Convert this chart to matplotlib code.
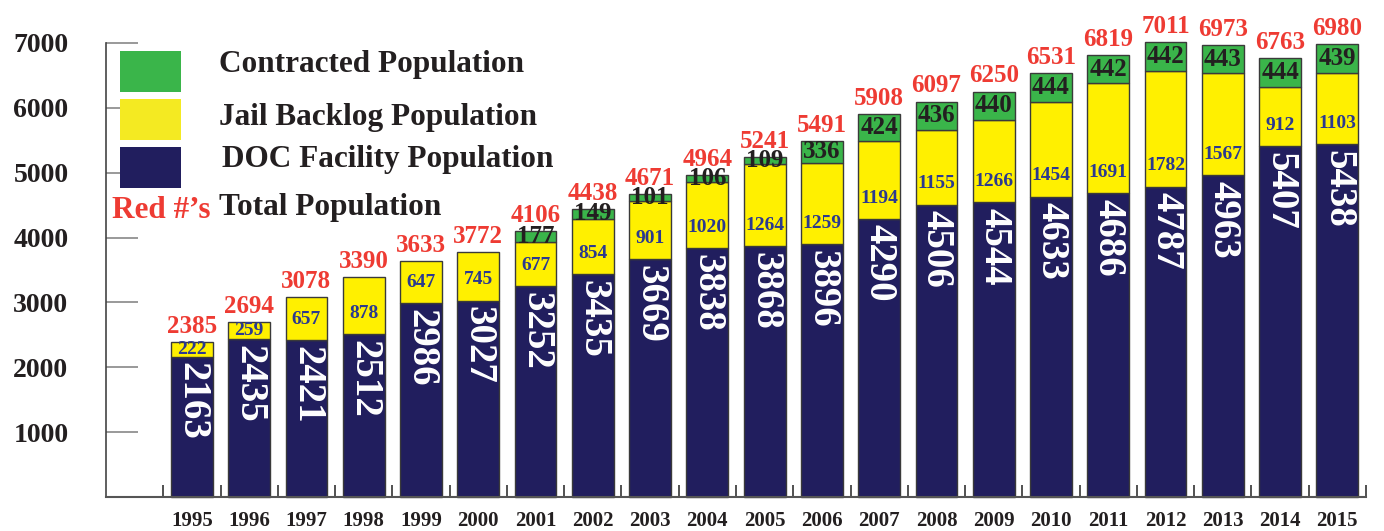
import numpy as np
import matplotlib
matplotlib.use("Agg")
import matplotlib.pyplot as plt
from matplotlib.patches import Rectangle

plt.rcParams['font.family'] = ['Liberation Serif', 'DejaVu Serif']
plt.rcParams['font.weight'] = 'bold'

years = ['1995', '1996', '1997', '1998', '1999', '2000', '2001', '2002', '2003', '2004', '2005',
         '2006', '2007', '2008', '2009', '2010', '2011', '2012', '2013', '2014', '2015']
doc = [2163, 2435, 2421, 2512, 2986, 3027, 3252, 3435, 3669, 3838, 3868,
       3896, 4290, 4506, 4544, 4633, 4686, 4787, 4963, 5407, 5438]
jail = [222, 259, 657, 878, 647, 745, 677, 854, 901, 1020, 1264,
        1259, 1194, 1155, 1266, 1454, 1691, 1782, 1567, 912, 1103]
contracted = [0, 0, 0, 0, 0, 0, 177, 149, 101, 106, 109,
              336, 424, 436, 440, 444, 442, 442, 443, 444, 439]
total = [2385, 2694, 3078, 3390, 3633, 3772, 4106, 4438, 4671, 4964, 5241,
         5491, 5908, 6097, 6250, 6531, 6819, 7011, 6973, 6763, 6980]
yticks = [1000, 2000, 3000, 4000, 5000, 6000, 7000]

NAVY = '#211e5e'
YELLOW = '#fff000'
GREEN = '#3ab54a'
RED = '#ee3b33'
BLUE = '#2b3990'
DARK = '#231f20'

W, H = 1384, 531
fig = plt.figure(figsize=(W / 100, H / 100), dpi=100)
ax = fig.add_axes([106 / W, 34 / H, 1260 / W, 454 / H])

x = np.arange(1, len(years) + 1)
doc = np.array(doc)
jail = np.array(jail)
contracted = np.array(contracted)
bw = 0.73
ec = '#3a3a3a'

ax.bar(x, doc, bw, color=NAVY, edgecolor=ec, linewidth=1, clip_on=False)
ax.bar(x, jail, bw, bottom=doc, color=YELLOW, edgecolor=ec, linewidth=1, clip_on=False)
has_c = contracted > 0
ax.bar(x[has_c], contracted[has_c], bw, bottom=(doc + jail)[has_c], color=GREEN,
       edgecolor=ec, linewidth=1, clip_on=False)

for i in range(len(years)):
    # DOC value, white, rotated, near top of navy segment
    ax.annotate(str(doc[i]), (x[i], doc[i]), xytext=(0, -4), textcoords='offset points',
                rotation=270, ha='center', va='top', color='white', fontsize=28,
                annotation_clip=False)
    # jail backlog value, blue, in lower part of yellow segment
    off = min(jail[i] / 2, 320)
    ax.annotate(str(jail[i]), (x[i], doc[i] + off), ha='center', va='center',
                color=BLUE, fontsize=14, annotation_clip=False)
    if contracted[i] > 0:
        ax.annotate(str(contracted[i]), (x[i], doc[i] + jail[i] + contracted[i] / 2),
                    ha='center', va='center', color=DARK, fontsize=18, annotation_clip=False)
    ax.annotate(str(total[i]), (x[i], total[i]), xytext=(0, 3), textcoords='offset points',
                ha='center', va='bottom', color=RED, fontsize=18, annotation_clip=False)

ax.set_xlim(-0.5, len(years) + 0.5)
ax.set_ylim(0, 7000)
ax.set_xticks(x)
ax.set_xticklabels(years)
ax.set_xticks(np.arange(0.5, len(years) + 1), minor=True)
ax.tick_params(axis='x', which='major', length=0, pad=10, labelsize=15, labelcolor=DARK)
ax.tick_params(axis='x', which='minor', direction='in', length=9, width=1.2, color='#333333')
ax.set_yticks(yticks)
ax.tick_params(axis='y', direction='in', length=23, width=1.2, color='#888888',
               pad=27, labelsize=20, labelcolor=DARK)

for s in ['top', 'right']:
    ax.spines[s].set_visible(False)
ax.spines['left'].set_color('#444444')
ax.spines['left'].set_linewidth(1.2)
ax.spines['bottom'].set_color('#555555')
ax.spines['bottom'].set_linewidth(1.5)

# legend drawn by hand
def px(xp, yp):
    return xp / W, 1 - yp / H

leg = [(GREEN, 51, 'Contracted Population', 219, 65),
       ('#f4ea22', 99, 'Jail Backlog Population', 219, 118),
       (NAVY, 147, 'DOC Facility Population', 222, 160)]
for col, ytop, label, tx, ty in leg:
    x0, y0 = px(120, ytop + 41)
    fig.add_artist(Rectangle((x0, y0), 61 / W, 41 / H, transform=fig.transFigure,
                             facecolor=col, edgecolor='none'))
    fig.text(*px(tx, ty), label, ha='left', va='center', fontsize=22.5, color=DARK)

fig.text(*px(112, 211), "Red #\u2019s", ha='left', va='center', fontsize=22.5, color=RED)
fig.text(*px(219, 208), 'Total Population', ha='left', va='center', fontsize=22.5, color=DARK)

fig.savefig('out.png', dpi=100)
